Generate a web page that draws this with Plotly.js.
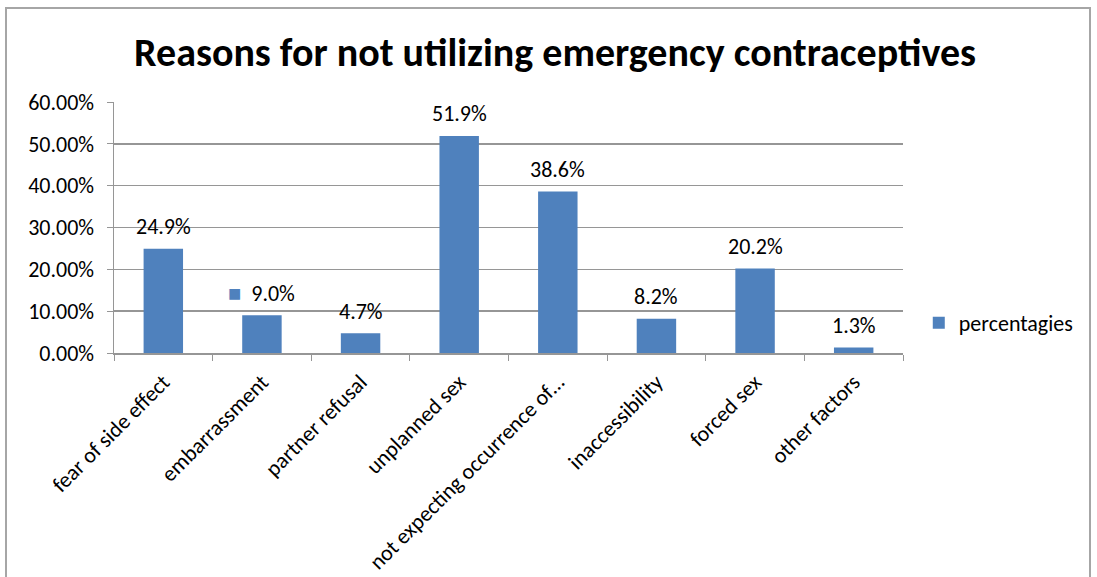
<!DOCTYPE html>
<html>
<head>
<meta charset="utf-8">
<script src="https://cdn.plot.ly/plotly-3.0.1.min.js"></script>
<style>
html,body{margin:0;padding:0;background:#fff;}
#wrap{position:relative;width:1097px;height:577px;overflow:hidden;}
#frame{position:absolute;left:5px;top:7px;width:1086px;height:600px;border:2px solid #a6a6a6;box-sizing:border-box;pointer-events:none;}
#chart{position:absolute;left:0;top:0;width:1097px;height:577px;}
</style>
</head>
<body>
<div id="wrap">
<div id="chart"></div>
<div id="frame"></div>
</div>
<script>
const categories = ["fear of side effect","embarrassment","partner refusal","unplanned sex","not expecting occurrence of…","inaccessibility","forced sex","other factors"];
const percentages = [0.249, 0.090, 0.047, 0.519, 0.386, 0.082, 0.202, 0.013];
const seriesName = "percentagies";
const yTickVals = [0, 0.1, 0.2, 0.3, 0.4, 0.5, 0.6];
const yTickText = ["0.00%","10.00%","20.00%","30.00%","40.00%","50.00%","60.00%"];

const barColor = "#4f81bd";
const font = "Carlito, Lato, 'Open Sans', sans-serif";
const labels = percentages.map((v, i) => {
  const t = (v * 100).toFixed(1) + "%";
  return i === 1 ? '<span style="color:' + barColor + '">■</span>  ' + t : t;
});

const trace = {
  type: "bar",
  x: categories,
  y: percentages,
  name: seriesName,
  marker: {color: barColor},
  cliponaxis: false,
  hoverinfo: "none",
  showlegend: true
};

const annotations = categories.map((c, i) => ({
  x: c, y: percentages[i], xref: "x", yref: "y",
  text: labels[i], showarrow: false,
  xanchor: "center", yanchor: "middle", yshift: 22,
  font: {family: font, size: 22, color: "#000"}
}));

const layout = {
  width: 1097, height: 577,
  margin: {l: 114, r: 194, t: 102, b: 224},
  paper_bgcolor: "#fff", plot_bgcolor: "#fff",
  font: {family: font, size: 22, color: "#000"},
  title: {text: "<b>Reasons for not utilizing emergency contraceptives</b>", font: {family: font, size: 40, color: "#000"}, x: 0.506, xanchor: "center", y: 0.91, yanchor: "middle"},
  bargap: 0.6,
  annotations: annotations,
  xaxis: {
    type: "category", tickangle: -45, tickfont: {family: font, size: 22, color: "#000"},
    showline: true, linecolor: "#969696", linewidth: 1.5,
    ticks: "outside", ticklen: 6, tickcolor: "#969696", tickson: "boundaries",
    ticklabelstandoff: 6,
    showgrid: false, automargin: false
  },
  yaxis: {
    range: [0, 0.6], tickvals: yTickVals, ticktext: yTickText,
    tickfont: {family: font, size: 22, color: "#000"},
    showline: true, linecolor: "#969696", linewidth: 1.5,
    ticks: "outside", ticklen: 6, tickcolor: "#969696",
    ticklabelstandoff: 8,
    showgrid: true, gridcolor: "#969696", gridwidth: 1.5,
    zeroline: false, automargin: false
  },
  legend: {x: 1.02, y: 0.12, xanchor: "left", yanchor: "middle", font: {family: font, size: 22, color: "#000"}, bgcolor: "rgba(0,0,0,0)"}
};

Plotly.newPlot("chart", [trace], layout, {displayModeBar: false, staticPlot: true});
</script>
</body>
</html>
